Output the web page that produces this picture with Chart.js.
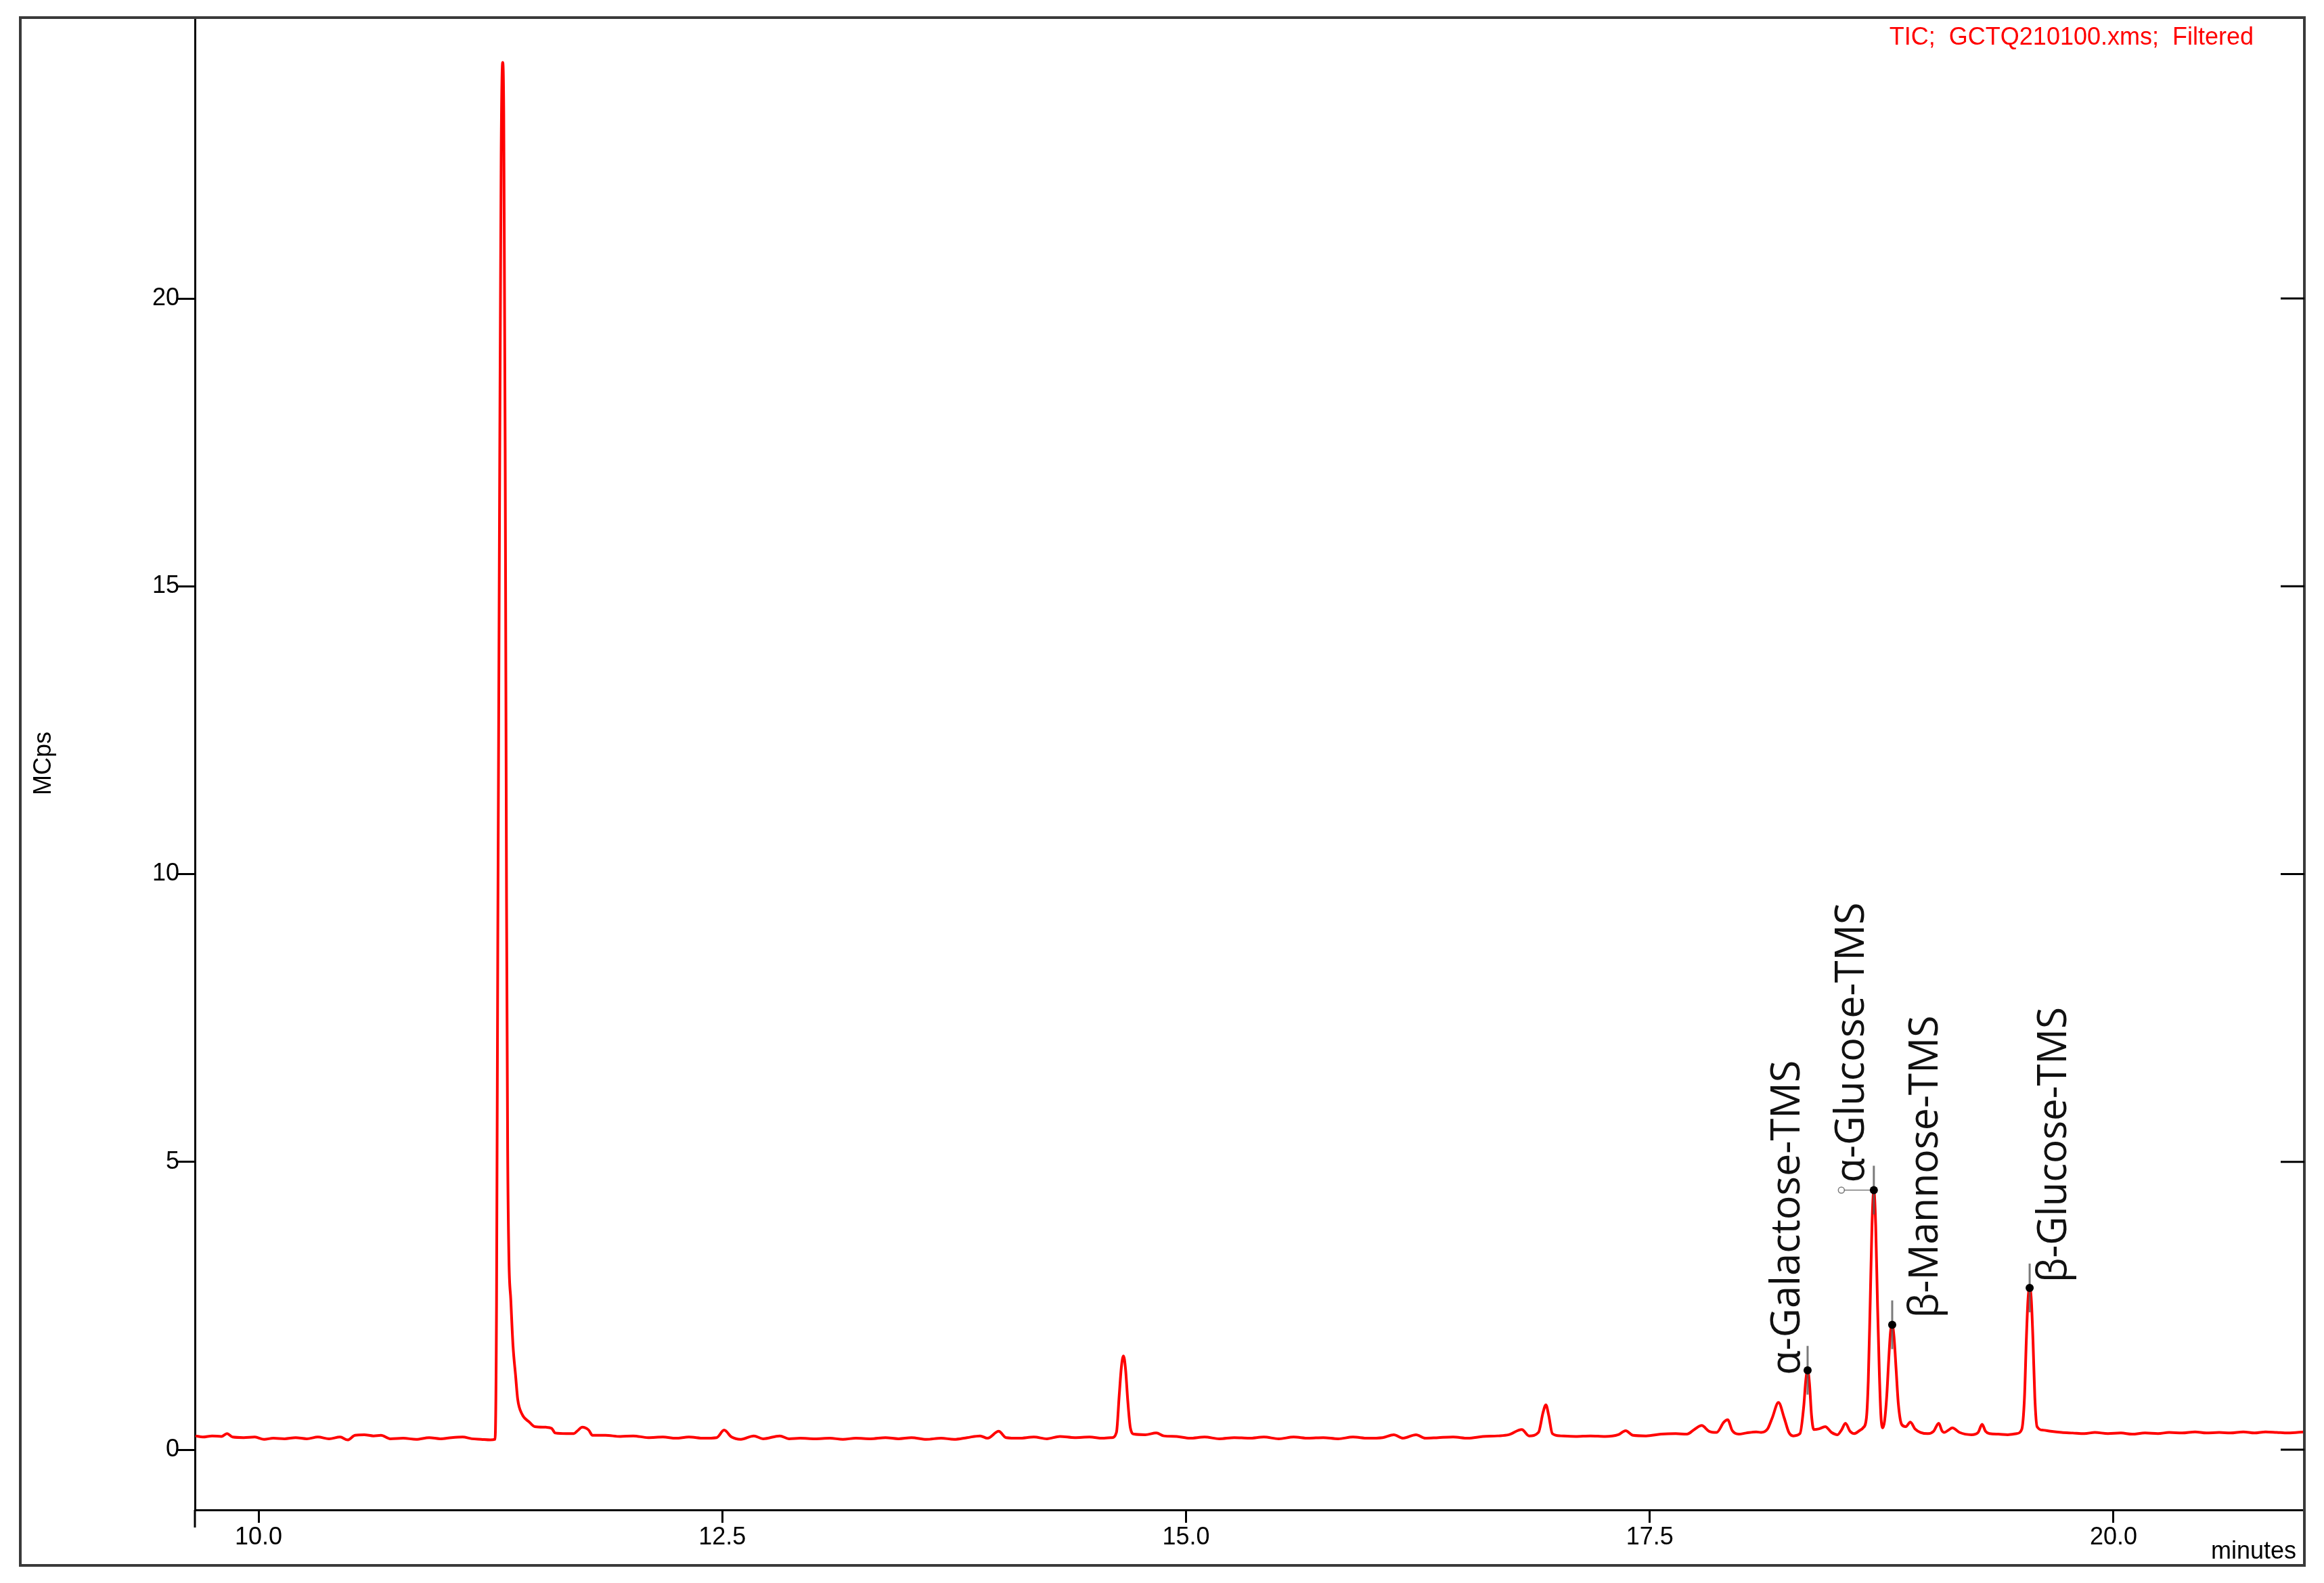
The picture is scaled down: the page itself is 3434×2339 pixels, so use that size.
<!DOCTYPE html>
<html>
<head>
<meta charset="utf-8">
<script src="https://cdn.jsdelivr.net/npm/chart.js@4.4.1/dist/chart.umd.min.js"></script>
<style>
  body { margin: 0; background: #fff; }
  canvas { display: block; }
</style>
</head>
<body>
<canvas id="tic" width="3434" height="2339" style="width:3434px;height:2339px"></canvas>
<script>
// retention time (min) and signal (MCps)
const times = [
  9.66, 9.70, 9.75, 9.80, 9.83, 9.86, 9.92, 9.98, 10.03, 10.08,
  10.14, 10.20, 10.26, 10.32, 10.38, 10.44, 10.48, 10.52, 10.57, 10.62,
  10.66, 10.71, 10.78, 10.85, 10.92, 10.98, 11.04, 11.10, 11.15, 11.20,
  11.25, 11.275, 11.283, 11.29, 11.30, 11.308, 11.316, 11.322, 11.33, 11.337,
  11.343, 11.35, 11.36, 11.372, 11.386, 11.397, 11.42, 11.46, 11.49, 11.55,
  11.58, 11.60, 11.66, 11.70, 11.72, 11.745, 11.78, 11.80, 11.87, 11.95,
  12.02, 12.10, 12.18, 12.25, 12.32, 12.40, 12.47, 12.51, 12.55, 12.60,
  12.67, 12.72, 12.81, 12.86, 12.92, 13.00, 13.08, 13.15, 13.22, 13.30,
  13.38, 13.45, 13.52, 13.60, 13.68, 13.75, 13.82, 13.89, 13.93, 13.99,
  14.03, 14.10, 14.18, 14.25, 14.32, 14.40, 14.48, 14.55, 14.60, 14.625,
  14.64, 14.652, 14.663, 14.674, 14.686, 14.70, 14.72, 14.78, 14.84, 14.88,
  14.95, 15.02, 15.10, 15.18, 15.26, 15.34, 15.42, 15.50, 15.58, 15.66,
  15.74, 15.82, 15.90, 15.98, 16.06, 16.12, 16.17, 16.24, 16.29, 16.36,
  16.44, 16.52, 16.60, 16.68, 16.74, 16.81, 16.85, 16.90, 16.925, 16.94,
  16.955, 16.975, 17.02, 17.10, 17.18, 17.26, 17.33, 17.37, 17.41, 17.48,
  17.56, 17.64, 17.70, 17.74, 17.78, 17.82, 17.86, 17.90, 17.92, 17.945,
  17.98, 18.02, 18.074, 18.10, 18.135, 18.16, 18.194, 18.225, 18.25, 18.274,
  18.31, 18.33, 18.341, 18.351, 18.361, 18.372, 18.384, 18.41, 18.446, 18.48,
  18.512, 18.535, 18.555, 18.58, 18.603, 18.63, 18.65, 18.668, 18.678, 18.688,
  18.698, 18.708, 18.718, 18.728, 18.738, 18.746, 18.756, 18.766, 18.778, 18.788,
  18.798, 18.807, 18.817, 18.828, 18.84, 18.858, 18.88, 18.905, 18.93, 18.96,
  19.00, 19.03, 19.058, 19.075, 19.088, 19.11, 19.131, 19.17, 19.234, 19.27,
  19.292, 19.31, 19.332, 19.38, 19.43, 19.478, 19.505, 19.52, 19.53, 19.539,
  19.548, 19.557, 19.566, 19.576, 19.588, 19.62, 19.661, 19.72, 19.78, 19.843,
  19.90, 19.97, 20.04, 20.10, 20.17, 20.24, 20.30, 20.37, 20.44, 20.50,
  20.57, 20.63, 20.70, 20.76, 20.82, 20.88, 20.94, 21.03
];
const signal = [
  0.24, 0.22, 0.24, 0.23, 0.28, 0.22, 0.21, 0.22, 0.18, 0.20,
  0.19, 0.21, 0.19, 0.22, 0.19, 0.22, 0.17, 0.25, 0.26, 0.24,
  0.25, 0.19, 0.20, 0.18, 0.21, 0.19, 0.21, 0.22, 0.19, 0.18,
  0.17, 0.18, 2.5, 9, 17, 22.5, 24.1, 23.2, 17, 9.5,
  5.2, 3.3, 2.6, 1.8, 1.28, 0.88, 0.62, 0.48, 0.40, 0.39,
  0.37, 0.29, 0.28, 0.28, 0.33, 0.39, 0.34, 0.25, 0.25, 0.23,
  0.24, 0.21, 0.22, 0.20, 0.22, 0.20, 0.21, 0.34, 0.22, 0.18,
  0.24, 0.19, 0.24, 0.19, 0.20, 0.19, 0.20, 0.18, 0.20, 0.19,
  0.21, 0.19, 0.21, 0.18, 0.20, 0.18, 0.21, 0.24, 0.20, 0.32,
  0.21, 0.20, 0.22, 0.19, 0.23, 0.21, 0.22, 0.20, 0.21, 0.30,
  0.95, 1.45, 1.63, 1.40, 0.85, 0.38, 0.27, 0.26, 0.29, 0.24,
  0.23, 0.20, 0.22, 0.19, 0.21, 0.20, 0.22, 0.19, 0.22, 0.20,
  0.21, 0.19, 0.22, 0.20, 0.21, 0.26, 0.20, 0.26, 0.20, 0.21,
  0.22, 0.20, 0.23, 0.24, 0.26, 0.35, 0.24, 0.30, 0.65, 0.78,
  0.60, 0.28, 0.24, 0.23, 0.24, 0.23, 0.26, 0.33, 0.25, 0.24,
  0.27, 0.28, 0.27, 0.35, 0.42, 0.32, 0.30, 0.48, 0.52, 0.33,
  0.27, 0.29, 0.31, 0.30, 0.36, 0.55, 0.82, 0.55, 0.30, 0.24,
  0.28, 0.75, 1.2, 1.38, 1.15, 0.6, 0.35, 0.36, 0.40, 0.30,
  0.26, 0.35, 0.46, 0.32, 0.28, 0.33, 0.38, 0.55, 1.2, 2.5,
  3.9, 4.51, 3.9, 2.5, 1.3, 0.6, 0.38, 0.5, 0.95, 1.55,
  2.05, 2.17, 1.95, 1.4, 0.8, 0.44, 0.40, 0.48, 0.36, 0.30,
  0.28, 0.32, 0.46, 0.33, 0.30, 0.34, 0.38, 0.30, 0.26, 0.30,
  0.44, 0.32, 0.28, 0.27, 0.26, 0.28, 0.35, 0.9, 1.9, 2.6,
  2.81, 2.6, 1.9, 0.9, 0.40, 0.34, 0.32, 0.30, 0.29, 0.28,
  0.30, 0.28, 0.29, 0.27, 0.29, 0.28, 0.30, 0.29, 0.31, 0.29,
  0.30, 0.29, 0.31, 0.29, 0.31, 0.30, 0.29, 0.31
];

const xTicks = [10, 12.5, 15, 17.5, 20];
const xTickLabels = ["10.0", "12.5", "15.0", "17.5", "20.0"];
const yTicks = [0, 5, 10, 15, 20];
const yTickLabels = ["0", "5", "10", "15", "20"];

const peakNames = ["α-Galactose-TMS", "α-Glucose-TMS", "β-Mannose-TMS", "β-Glucose-TMS"];
const peakTimes = [18.351, 18.708, 18.807, 19.548];
const peakHeights = [1.38, 4.51, 2.17, 2.81];

const axisFont = "Liberation Sans, Arial, sans-serif";

// frame, extra ticks, captions and peak labels
const extras = {
  id: "extras",
  afterDatasetsDraw(chart) {
    const c = chart.ctx;
    const xs = chart.scales.x;
    const ys = chart.scales.y;
    const area = chart.chartArea;

    // peak markers
    const labelDx = [-12, -15, 67, 54];
    const labelDy = [7, -11, -10, -8];
    const labelLen = [465, 414, 447, 407];
    peakNames.forEach(function (name, i) {
      const px = xs.getPixelForValue(peakTimes[i]);
      const py = ys.getPixelForValue(peakHeights[i]);
      c.save();
      c.strokeStyle = "rgba(90,90,90,0.8)";
      c.lineWidth = 3;
      c.beginPath();
      c.moveTo(px, py - 36);
      c.lineTo(px, py + 36);
      c.stroke();
      if (i === 1) {
        c.lineWidth = 1.5;
        c.beginPath();
        c.moveTo(px - 44, py);
        c.lineTo(px, py);
        c.stroke();
        c.beginPath();
        c.arc(px - 48, py, 4.5, 0, Math.PI * 2);
        c.stroke();
      }
      c.fillStyle = "#000";
      c.beginPath();
      c.arc(px, py, 6, 0, Math.PI * 2);
      c.fill();

      c.translate(px + labelDx[i], py + labelDy[i]);
      c.rotate(-Math.PI / 2);
      c.font = "60px 'Open Sans', 'Noto Sans', sans-serif";
      const w = c.measureText(name).width;
      c.scale(labelLen[i] / w, 1);
      c.fillStyle = "#111";
      c.textAlign = "left";
      c.textBaseline = "alphabetic";
      c.fillText(name, 0, 0);
      c.restore();
    });

    c.save();
    // outer frame
    c.strokeStyle = "#3a3a3a";
    c.lineWidth = 4;
    c.strokeRect(30, 26, area.right - 30, 2313 - 26);

    // y axis runs a little below the x axis
    c.strokeStyle = "#000";
    c.lineWidth = 3;
    c.beginPath();
    c.moveTo(area.left, area.bottom);
    c.lineTo(area.left, area.bottom + 26);
    c.stroke();

    // inward ticks on the right edge
    yTicks.forEach(function (v) {
      const py = ys.getPixelForValue(v);
      c.beginPath();
      c.moveTo(area.right - 35, py);
      c.lineTo(area.right, py);
      c.stroke();
    });

    // captions
    c.font = "36px " + axisFont;
    c.fillStyle = "#ff0000";
    c.textAlign = "right";
    c.textBaseline = "alphabetic";
    c.fillText("TIC;  GCTQ210100.xms;  Filtered", 3330, 66);

    c.fillStyle = "#000";
    c.fillText("minutes", 3393, 2303);

    c.translate(75, 1128);
    c.rotate(-Math.PI / 2);
    c.textAlign = "center";
    c.fillText("MCps", 0, 0);
    c.restore();
  }
};

const ctx = document.getElementById("tic").getContext("2d");
const ticChart = new Chart(ctx, {
  type: "line",
  data: {
    datasets: [
      {
        label: "TIC",
        data: times.map(function (t, i) { return { x: t, y: signal[i] }; }),
        borderColor: "#ff0000",
        borderWidth: 4,
        pointRadius: 0,
        fill: false,
        cubicInterpolationMode: "monotone"
      }
    ]
  },
  options: {
    responsive: false,
    animation: false,
    devicePixelRatio: 1,
    layout: { padding: { left: 0, top: 26, right: 29, bottom: 0 } },
    plugins: { legend: { display: false }, tooltip: { enabled: false } },
    scales: {
      x: {
        type: "linear",
        min: 9.657,
        max: 21.029,
        afterBuildTicks: function (s) { s.ticks = xTicks.map(function (v) { return { value: v }; }); },
        afterFit: function (s) { s.height = 108; },
        ticks: {
          autoSkip: false,
          maxRotation: 0,
          padding: 0,
          color: "#000",
          font: { family: axisFont, size: 36 },
          callback: function (v, i) { return xTickLabels[i]; }
        },
        grid: { drawOnChartArea: false, drawTicks: true, tickLength: 19, tickWidth: 3, tickColor: "#000" },
        border: { display: true, color: "#000", width: 3 }
      },
      y: {
        type: "linear",
        min: -1.046,
        max: 24.88,
        afterBuildTicks: function (s) { s.ticks = yTicks.map(function (v) { return { value: v }; }); },
        afterFit: function (s) { s.width = 288; },
        ticks: {
          autoSkip: false,
          padding: -2,
          color: "#000",
          font: { family: axisFont, size: 36 },
          callback: function (v, i) { return yTickLabels[i]; }
        },
        grid: { drawOnChartArea: false, drawTicks: true, tickLength: 25, tickWidth: 3, tickColor: "#000" },
        border: { display: true, color: "#000", width: 3 }
      }
    }
  },
  plugins: [extras]
});
</script>
</body>
</html>
